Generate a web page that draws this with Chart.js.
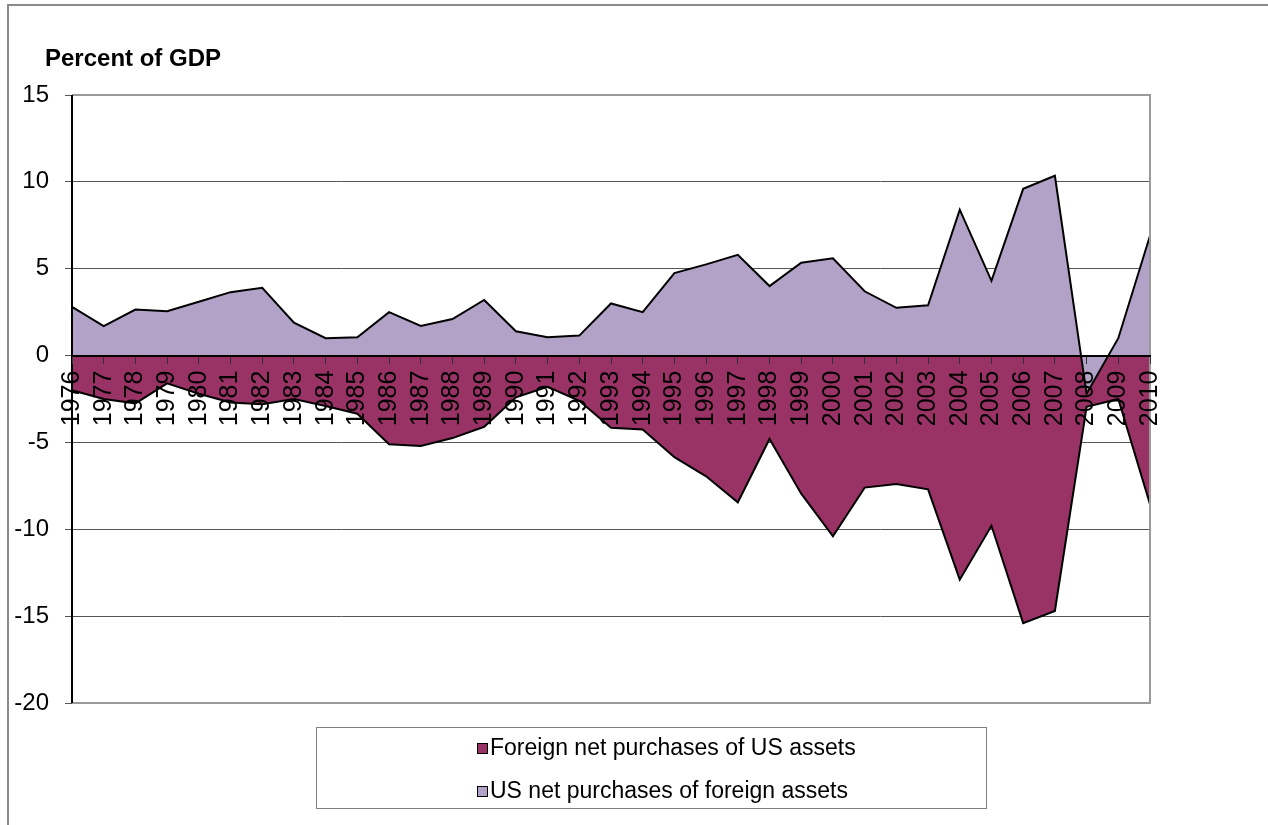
<!DOCTYPE html>
<html>
<head>
<meta charset="utf-8">
<script src="https://cdn.jsdelivr.net/npm/chart.js@4.4.0/dist/chart.umd.min.js"></script>
<style>
    body { margin: 0; background: #fff; font-family: "Liberation Sans", Arial, sans-serif; }
    #wrap { position: relative; width: 1268px; height: 825px; overflow: hidden; }
    #frame { position: absolute; left: 7px; top: 4px; width: 1300px; height: 900px;
             border-left: 2px solid #8a8a8a; border-top: 2px solid #8a8a8a; }
    #chart { position: absolute; left: 0; top: 0; }
    #title { position: absolute; left: 45px; top: 44px; font-size: 24px; font-weight: bold; color: #000; }
    #legend { position: absolute; left: 316px; top: 727px; width: 671px; height: 82px;
              border: 1px solid #808080; box-sizing: border-box; }
    .item { position: absolute; left: 160px; font-size: 23px; color: #000; line-height: 26px; }
    .item span.box { display: inline-block; width: 9px; height: 9px; border: 1px solid #000;
                     margin-right: 2px; vertical-align: 1px; }
</style>
</head>
<body>
<div id="wrap">
    <div id="frame"></div>
    <canvas id="chart" width="1268" height="825"></canvas>
    <div id="title">Percent of GDP</div>
    <div id="legend"></div>
</div>
<script>
// Dados (% do PIB)
const anos = ['1976','1977','1978','1979','1980','1981','1982','1983','1984','1985',
              '1986','1987','1988','1989','1990','1991','1992','1993','1994','1995',
              '1996','1997','1998','1999','2000','2001','2002','2003','2004','2005',
              '2006','2007','2008','2009','2010'];

const comprasEstrangeiras = [-2.0, -2.5, -2.75, -1.6, -2.2, -2.7, -2.8, -2.5, -2.9, -3.35,
                             -5.1, -5.2, -4.75, -4.1, -2.4, -1.8, -2.6, -4.15, -4.25, -5.85,
                             -6.95, -8.45, -4.8, -7.95, -10.4, -7.6, -7.4, -7.7, -12.9, -9.8,
                             -15.4, -14.7, -2.95, -2.5, -8.55];

const comprasEUA = [2.8, 1.7, 2.65, 2.55, 3.1, 3.65, 3.9, 1.9, 1.0, 1.05,
                    2.5, 1.7, 2.1, 3.2, 1.4, 1.05, 1.15, 3.0, 2.5, 4.75,
                    5.25, 5.8, 4.0, 5.35, 5.6, 3.7, 2.75, 2.9, 8.4, 4.3,
                    9.6, 10.35, -2.2, 1.0, 6.9];

const escalaY = { min: -20, max: 15, passo: 5 };

const series = [
    { nome: 'Foreign net purchases of US assets', dados: comprasEstrangeiras, cor: '#993366', ordem: 1 },
    { nome: 'US net purchases of foreign assets', dados: comprasEUA, cor: '#B3A2C7', ordem: 0 }
];

// Moldura da área do gráfico (cinza em cima/direita/baixo, eixo preto à esquerda)
const molduraPlugin = {
    id: 'moldura',
    afterDatasetsDraw(chart) {
        const a = chart.chartArea;
        const ctx = chart.ctx;
        ctx.save();
        ctx.lineWidth = 2;
        ctx.strokeStyle = '#9a9a9a';
        ctx.beginPath();
        ctx.moveTo(a.left, a.top);
        ctx.lineTo(a.right, a.top);
        ctx.lineTo(a.right, a.bottom);
        ctx.lineTo(a.left, a.bottom);
        ctx.stroke();
        ctx.strokeStyle = '#000';
        ctx.beginPath();
        ctx.moveTo(a.left, a.top);
        ctx.lineTo(a.left, a.bottom);
        ctx.stroke();
        ctx.restore();
    }
};

const grafico = new Chart(document.getElementById('chart').getContext('2d'), {
    type: 'line',
    data: {
        labels: anos,
        datasets: series.map(s => ({
            label: s.nome,
            data: s.dados,
            backgroundColor: s.cor,
            borderColor: '#000',
            borderWidth: 2,
            fill: 'origin',
            pointRadius: 0,
            tension: 0,
            order: s.ordem
        }))
    },
    options: {
        responsive: false,
        devicePixelRatio: 1,
        animation: false,
        layout: { padding: { left: 0, top: 95, right: 118, bottom: 122 } },
        plugins: {
            legend: { display: false },
            tooltip: { enabled: false }
        },
        scales: {
            x: {
                position: { y: 0 },
                offset: false,
                // eixo horizontal desenhado por cima das áreas
                grid: { drawOnChartArea: false, drawTicks: true, tickLength: 7, color: '#333', z: 1 },
                border: { display: true, color: '#000', width: 2, z: 1 },
                ticks: {
                    z: 1,
                    autoSkip: false,
                    minRotation: 90,
                    maxRotation: 90,
                    padding: 8,
                    color: '#000',
                    font: { family: '"Liberation Sans", Arial', size: 25 }
                }
            },
            y: {
                min: escalaY.min,
                max: escalaY.max,
                afterFit: function(escala) { escala.width = 72; },
                grid: { color: '#555', lineWidth: 1, tickLength: 7 },
                border: { display: false },
                ticks: {
                    stepSize: escalaY.passo,
                    padding: 16,
                    color: '#000',
                    font: { family: '"Liberation Sans", Arial', size: 24 }
                }
            }
        }
    },
    plugins: [molduraPlugin]
});

// Legenda em HTML (caixa com borda, como no original)
const legenda = document.getElementById('legend');
series.forEach((s, i) => {
    const item = document.createElement('div');
    item.className = 'item';
    item.style.top = (6 + i * 43) + 'px';
    item.innerHTML = '<span class="box" style="background:' + s.cor + '"></span>' + s.nome;
    legenda.appendChild(item);
});
</script>
</body>
</html>
